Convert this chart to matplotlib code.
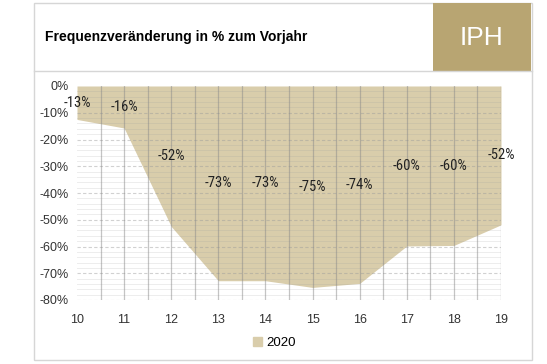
import matplotlib.pyplot as plt
import numpy as np
from matplotlib import font_manager
from matplotlib.patches import Rectangle
from matplotlib.lines import Line2D

# Kalenderwochen und Veränderung in % zum Vorjahr
weeks = [10, 11, 12, 13, 14, 15, 16, 17, 18, 19]
change_2020 = [-12.5, -15.7, -52.5, -72.8, -72.8, -75.3, -73.8, -59.8, -59.6, -51.9]
labels = ["-13%", "-16%", "-52%", "-73%", "-73%", "-75%", "-74%", "-60%", "-60%", "-52%"]
yticks = [0, -10, -20, -30, -40, -50, -60, -70, -80]

FILL = "#d9cdab"
GOLD = "#b8a572"

plt.rcParams["font.family"] = ["Liberation Sans", "DejaVu Sans"]

# narrow font for the data labels, if one is around
names = {f.name for f in font_manager.fontManager.ttflist}
narrow = next((n for n in ["Liberation Sans Narrow", "Arial Narrow",
                           "Roboto Condensed", "Open Sans Condensed"]
               if n in names), None)
label_font = dict(family=narrow, fontsize=10.5) if narrow else \
    dict(family="Liberation Sans", fontsize=8.5)

fig = plt.figure(figsize=(5.47, 3.64), dpi=100)

# outer panel, header line and IPH box
W, H = 547, 364
fig.patches.append(Rectangle((34 / W, 1 - 360 / H), 498 / W, 357 / H,
                             transform=fig.transFigure, fill=False,
                             edgecolor="#d6d6d6", linewidth=1))
fig.lines.append(Line2D([34 / W, 532 / W], [1 - 71 / H, 1 - 71 / H],
                        transform=fig.transFigure, color="#d6d6d6", linewidth=1))
fig.patches.append(Rectangle((433 / W, 1 - 71 / H), 98 / W, 68 / H,
                             transform=fig.transFigure, facecolor=GOLD,
                             edgecolor="none"))
fig.text(482 / W, 1 - 38 / H, "IPH", color="white", fontsize=19,
         ha="center", va="center")
fig.text(45 / W, 1 - 37 / H, "Frequenzveränderung in % zum Vorjahr",
         fontsize=10, fontweight="bold", ha="left", va="center")

ax = fig.add_axes([77 / W, 1 - 300 / H, 424 / W, 214 / H])
ax.fill_between(weeks, change_2020, 0, color=FILL, linewidth=0, zorder=1,
                label="2020")

# grid
for y in np.arange(-80, 0, 2):
    if y % 10 != 0:
        ax.axhline(y, color="#9a9a9a", alpha=0.18, linewidth=0.7, zorder=2)
for y in yticks[1:]:
    ax.axhline(y, color="#9a9a9a", alpha=0.45, linewidth=0.8,
               linestyle=(0, (3, 2)), zorder=2)
for x in np.arange(10.5, 19.5, 0.5):
    ax.axvline(x, color="#8a8a8a", alpha=0.5, linewidth=0.9, zorder=3)

for x, v, t in zip(weeks, change_2020, labels):
    ax.text(x, v / 2, t, ha="center", va="center", color="#222222",
            zorder=4, **label_font)

ax.set_xlim(10, 19)
ax.set_ylim(-80, 0)
ax.set_xticks(weeks)
ax.set_yticks(yticks)
ax.set_yticklabels([f"{v}%" for v in yticks])
ax.tick_params(length=0, labelsize=9, colors="#333333", pad=6)
ax.tick_params(axis="x", pad=10)
for s in ax.spines.values():
    s.set_visible(False)

fig.legend(handles=[Rectangle((0, 0), 1, 1, color=FILL)], labels=["2020"],
           loc="center", bbox_to_anchor=(274 / W, 1 - 343 / H), frameon=False,
           fontsize=9.5, handlelength=0.7, handleheight=0.7, handletextpad=0.3)

fig.savefig("out.png", dpi=100)
